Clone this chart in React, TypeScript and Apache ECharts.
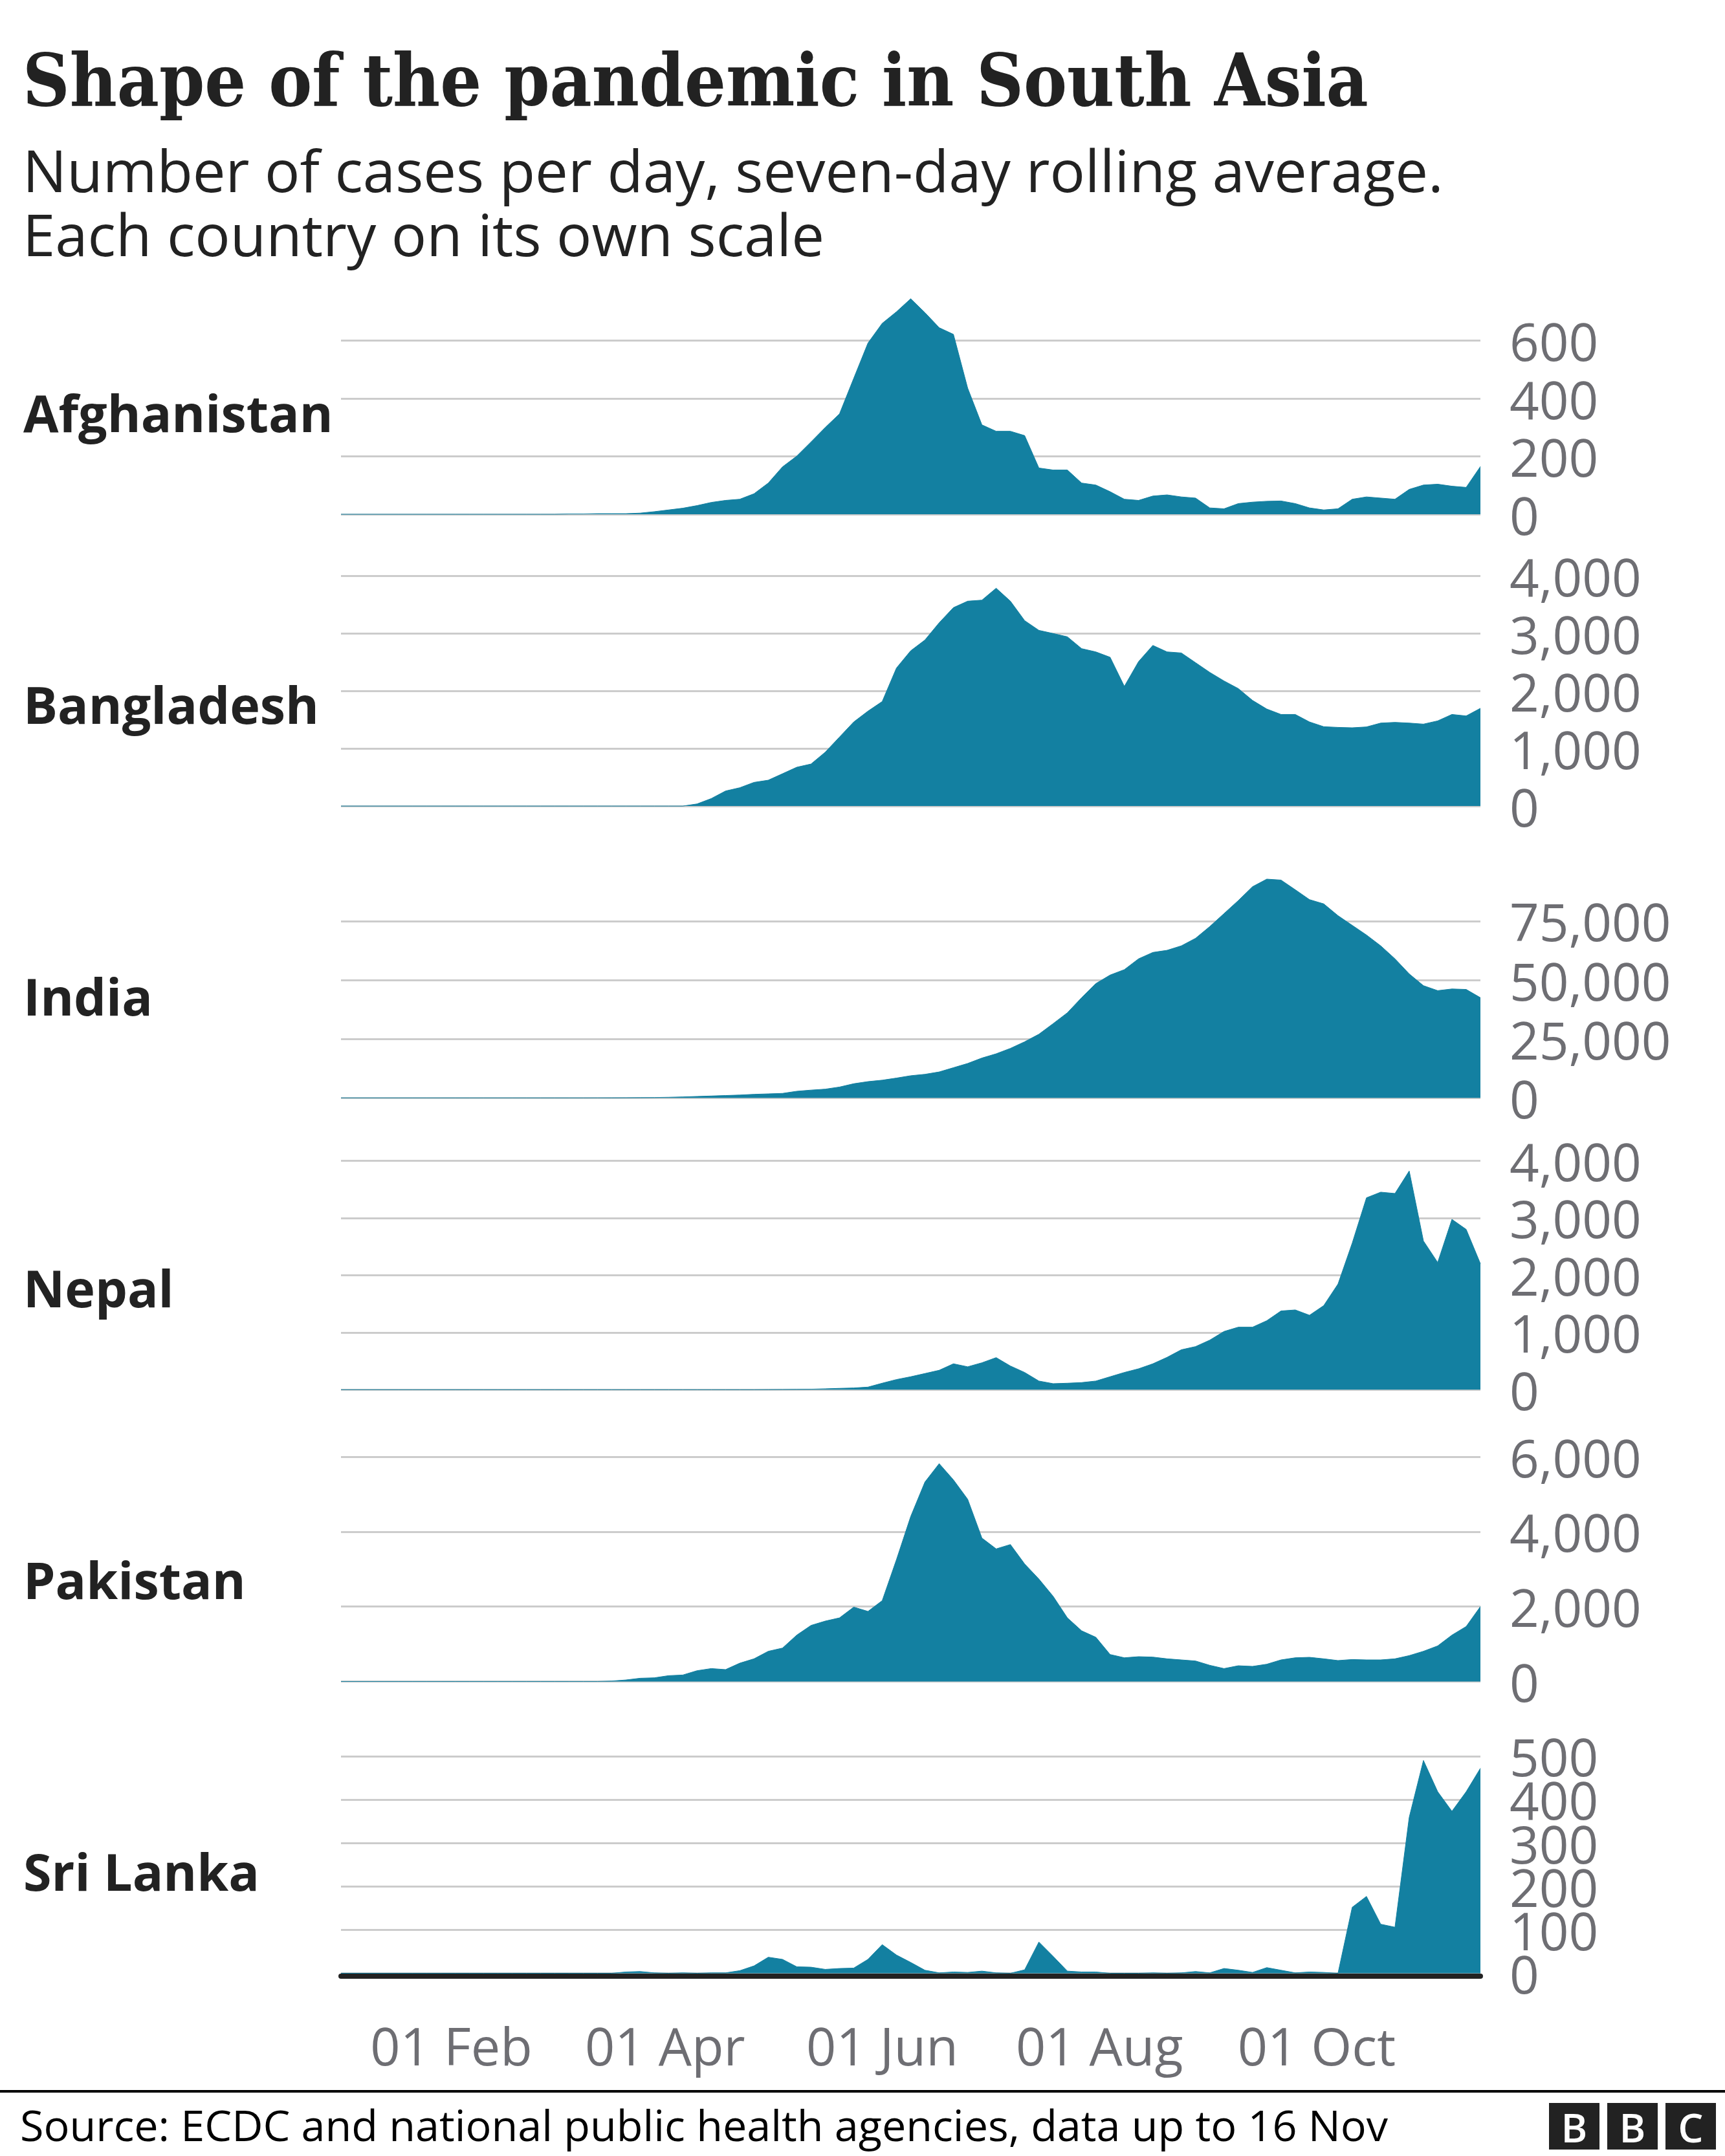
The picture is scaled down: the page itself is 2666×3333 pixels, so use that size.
import React, { useEffect, useRef } from "react";
import * as echarts from "echarts";

// ---------- data (7-day rolling average of daily cases, read every 4 days from 1 Jan 2020) ----------
const STEP_DAYS = 4; // day index of value k is k * STEP_DAYS (day 0 = 01 Jan 2020)
const LAST_DAY = 320; // 16 Nov 2020

const COUNTRIES = ["Afghanistan", "Bangladesh", "India", "Nepal", "Pakistan", "Sri Lanka"];

const afghanistan = [
  0, 0, 0, 0, 0, 0, 0, 0, 0, 0, 0, 0, 0, 0, 0, 0, 1, 1, 2, 2,
  2, 4, 9, 15, 21, 30, 41, 48, 52, 71, 108, 164, 201, 250, 300, 347, 470, 592, 660, 700,
  745, 697, 645, 622, 436, 309, 287, 287, 272, 160, 153, 153, 108, 101, 78, 52, 48, 63, 67, 60,
  56, 22, 19, 37, 42, 45, 46, 37, 22, 15, 19, 52, 60, 56, 52, 86, 101, 104, 97, 93,
  165,
];

const bangladesh = [
  0, 0, 0, 0, 0, 0, 0, 0, 0, 0, 0, 0, 0, 0, 0, 0, 0, 0, 0, 0,
  0, 0, 0, 0, 0, 37, 131, 262, 319, 412, 450, 562, 675, 731, 937, 1200, 1462, 1650, 1818, 2400,
  2700, 2887, 3187, 3450, 3562, 3580, 3787, 3562, 3224, 3055, 3000, 2943, 2737, 2680, 2587, 2081, 2512, 2793, 2680, 2662,
  2493, 2324, 2175, 2043, 1837, 1687, 1593, 1593, 1462, 1380, 1368, 1361, 1376, 1443, 1455, 1443, 1425, 1481, 1593, 1567,
  1700,
];

const india = [
  0, 0, 0, 0, 0, 0, 0, 0, 0, 0, 0, 0, 0, 0, 0, 0, 0, 0, 20, 30,
  60, 100, 150, 250, 400, 600, 800, 1000, 1200, 1500, 1700, 1900, 2800, 3300, 3700, 4600, 6000, 6900, 7500, 8400,
  9400, 10000, 11000, 12800, 14600, 16900, 18700, 21000, 23800, 27000, 31500, 36100, 42500, 48500, 52100, 54400, 59000, 61700, 62600, 64500,
  67700, 72700, 78200, 83700, 89600, 92800, 92400, 88300, 84100, 82300, 77300, 73200, 69100, 64500, 59000, 52600, 47600, 45500, 46200, 46000,
  42500,
];

const nepal = [
  0, 0, 0, 0, 0, 0, 0, 0, 0, 0, 0, 0, 0, 0, 0, 0, 0, 0, 0, 0,
  0, 0, 0, 0, 0, 0, 0, 0, 0, 0, 2, 4, 6, 8, 15, 23, 30, 45, 113, 177,
  226, 282, 339, 452, 400, 470, 560, 414, 301, 151, 105, 113, 124, 151, 226, 301, 365, 452, 565, 697,
  753, 866, 1017, 1092, 1092, 1205, 1375, 1393, 1300, 1469, 1845, 2561, 3352, 3450, 3427, 3820, 2598, 2222, 2975, 2800,
  2200,
];

const pakistan = [
  0, 0, 0, 0, 0, 0, 0, 0, 0, 0, 0, 0, 0, 0, 0, 0, 0, 0, 0, 12,
  40, 86, 98, 155, 173, 288, 345, 317, 489, 605, 806, 892, 1238, 1497, 1612, 1698, 1986, 1871, 2159, 3253,
  4405, 5326, 5816, 5383, 4865, 3829, 3541, 3656, 3138, 2735, 2274, 1698, 1353, 1180, 720, 633, 662, 651, 605, 576,
  547, 432, 345, 420, 403, 461, 576, 633, 645, 605, 559, 587, 576, 576, 605, 691, 806, 950, 1238, 1468,
  2000,
];

const sriLanka = [
  0, 0, 0, 0, 0, 0, 0, 0, 0, 0, 0, 0, 0, 0, 0, 0, 0, 0, 0, 0,
  3, 4, 1, 0, 1, 0, 1, 1, 6, 17, 37, 32, 15, 14, 9, 11, 12, 32, 66, 42,
  25, 7, 1, 3, 2, 5, 1, 0, 8, 72, 39, 5, 3, 3, 0, 0, 0, 1, 0, 1,
  4, 1, 11, 7, 2, 13, 7, 1, 3, 2, 0, 152, 177, 113, 106, 359, 490, 418, 373, 418,
  472,
];

const SERIES_VALUES = [afghanistan, bangladesh, india, nepal, pakistan, sriLanka];

// y-axis tick labels per country (top tick and step)
const TICK_MAX = [600, 4000, 75000, 4000, 6000, 500];
const TICK_STEP = [200, 1000, 25000, 1000, 2000, 100];
// Sri Lanka's labels are tightly packed: shown in two interleaved sets
const SRI_LANKA_LABELS_A = [0, 200, 400];
const SRI_LANKA_LABELS_B = [100, 300, 500];

// x-axis tick labels
const X_TICK_DAYS = [31, 91, 152, 213, 274];
const X_TICK_LABELS = ["01 Feb", "01 Apr", "01 Jun", "01 Aug", "01 Oct"];

const TITLE = "Shape of the pandemic in South Asia";
const SUBTITLE_1 = "Number of cases per day, seven-day rolling average.";
const SUBTITLE_2 = "Each country on its own scale";
const SOURCE = "Source: ECDC and national public health agencies, data up to 16 Nov";

// ---------- layout ----------
const W = 2666;
const H = 3333;
const PLOT_LEFT = 527;
const PLOT_WIDTH = 1761;
const ZERO_FIRST = 795;
const PANEL_GAP = 451.1;
const TICK_SPAN_PX = [268.3, 355.7, 273.3, 354, 347.4, 335.7];
const TEAL = "#1380A1";
const GREY_TEXT = "#6e6e73";
const SANS = "'Open Sans', 'Noto Sans', sans-serif";

function measure(text: string, font: string): number {
  const ctx = document.createElement("canvas").getContext("2d");
  if (!ctx) return 1;
  ctx.font = font;
  return ctx.measureText(text).width || 1;
}

const yLabelStyle = {
  color: GREY_TEXT,
  fontSize: 80,
  fontFamily: SANS,
  margin: 45,
  showMinLabel: true,
  showMaxLabel: true,
  hideOverlap: false,
  formatter: (v: number) => v.toLocaleString("en-US"),
};

function buildOption() {
  const zero = (i: number) => ZERO_FIRST + i * PANEL_GAP;
  const last = COUNTRIES.length - 1;

  const grid = COUNTRIES.map((_, i) => ({
    left: PLOT_LEFT,
    width: PLOT_WIDTH,
    top: zero(i) - TICK_SPAN_PX[i],
    height: TICK_SPAN_PX[i],
    containLabel: false,
  }));

  const xAxis = COUNTRIES.map((_, i) => ({
    gridIndex: i,
    type: "value",
    min: 0,
    max: LAST_DAY,
    show: i === last,
    offset: i === last ? 4 : 0,
    axisLine: { show: i === last, onZero: false, lineStyle: { color: "#222222", width: 8 } },
    axisTick: { show: false },
    splitLine: { show: false },
    axisLabel: {
      show: i === last,
      customValues: X_TICK_DAYS,
      formatter: (v: number) => {
        const idx = X_TICK_DAYS.indexOf(v);
        return idx >= 0 ? X_TICK_LABELS[idx] : "";
      },
      color: GREY_TEXT,
      fontSize: 81,
      fontFamily: SANS,
      margin: 66,
    },
  }));

  const yAxis: any[] = COUNTRIES.map((_, i) => ({
    gridIndex: i,
    type: "value",
    position: "right",
    min: 0,
    max: TICK_MAX[i],
    interval: TICK_STEP[i],
    axisLine: { show: false },
    axisTick: { show: false },
    splitLine: { show: true, lineStyle: { color: "#cccccc", width: 3 } },
    axisLabel: { ...yLabelStyle, show: i !== last },
  }));

  [SRI_LANKA_LABELS_A, SRI_LANKA_LABELS_B].forEach((vals) => {
    yAxis.push({
      gridIndex: last,
      type: "value",
      position: "right",
      min: 0,
      max: TICK_MAX[last],
      interval: TICK_STEP[last],
      axisLine: { show: false },
      axisTick: { show: false },
      splitLine: { show: false },
      axisLabel: { ...yLabelStyle, customValues: vals },
    });
  });

  const series = COUNTRIES.map((name, i) => ({
    name,
    type: "line",
    xAxisIndex: i,
    yAxisIndex: i,
    data: SERIES_VALUES[i].map((v, k) => [k * STEP_DAYS, v]),
    symbol: "none",
    showSymbol: false,
    clip: false,
    silent: true,
    lineStyle: { color: TEAL, width: 1 },
    areaStyle: { color: TEAL, opacity: 1 },
    z: 3,
  }));

  const titleFont = "bold 112px 'DejaVu Serif', serif";
  const titleScale = 2080 / measure(TITLE, titleFont);

  const countryLabels = COUNTRIES.map((name, i) => ({
    type: "text",
    x: 36,
    y: zero(i) - 158,
    style: {
      text: name,
      fill: "#222222",
      font: `bold 79px ${SANS}`,
      textAlign: "left",
      align: "left",
      textVerticalAlign: "middle",
      verticalAlign: "middle",
    },
  }));

  const logoLetters = ["B", "B", "C"];
  const logo = logoLetters.flatMap((ch, j) => [
    {
      type: "rect",
      shape: { x: 2394 + j * 90, y: 3251, width: 78, height: 72 },
      style: { fill: "#222222" },
    },
    {
      type: "text",
      x: 2394 + j * 90 + 39,
      y: 3288,
      style: {
        text: ch,
        fill: "#ffffff",
        font: `600 62px ${SANS}`,
        textAlign: "center",
        align: "center",
        textVerticalAlign: "middle",
        verticalAlign: "middle",
      },
    },
  ]);

  const graphic = [
    {
      type: "text",
      x: 35,
      y: 124,
      scaleX: titleScale,
      style: {
        text: TITLE,
        fill: "#222222",
        font: titleFont,
        textAlign: "left",
        align: "left",
        textVerticalAlign: "middle",
        verticalAlign: "middle",
      },
    },
    {
      type: "text",
      x: 35,
      y: 262,
      style: {
        text: SUBTITLE_1,
        fill: "#222222",
        font: `90.5px ${SANS}`,
        textAlign: "left",
        align: "left",
        textVerticalAlign: "middle",
        verticalAlign: "middle",
      },
    },
    {
      type: "text",
      x: 35,
      y: 361,
      style: {
        text: SUBTITLE_2,
        fill: "#222222",
        font: `90.5px ${SANS}`,
        textAlign: "left",
        align: "left",
        textVerticalAlign: "middle",
        verticalAlign: "middle",
      },
    },
    ...countryLabels,
    {
      type: "line",
      shape: { x1: 0, y1: 3233, x2: W, y2: 3233 },
      style: { stroke: "#000000", lineWidth: 4 },
    },
    {
      type: "text",
      x: 31,
      y: 3284,
      style: {
        text: SOURCE,
        fill: "#000000",
        font: `66.5px ${SANS}`,
        textAlign: "left",
        align: "left",
        textVerticalAlign: "middle",
        verticalAlign: "middle",
      },
    },
    ...logo,
  ];

  return {
    animation: false,
    backgroundColor: "#ffffff",
    grid,
    xAxis,
    yAxis,
    series,
    graphic,
  };
}

export default function App() {
  const ref = useRef<HTMLDivElement | null>(null);

  useEffect(() => {
    if (!ref.current) return;
    const chart = echarts.init(ref.current, undefined, { renderer: "svg", width: W, height: H });
    chart.setOption(buildOption() as any);
    return () => {
      chart.dispose();
    };
  }, []);

  return (
    <div
      ref={ref}
      style={{ position: "absolute", left: 0, top: 0, width: W, height: H, background: "#ffffff" }}
    />
  );
}
